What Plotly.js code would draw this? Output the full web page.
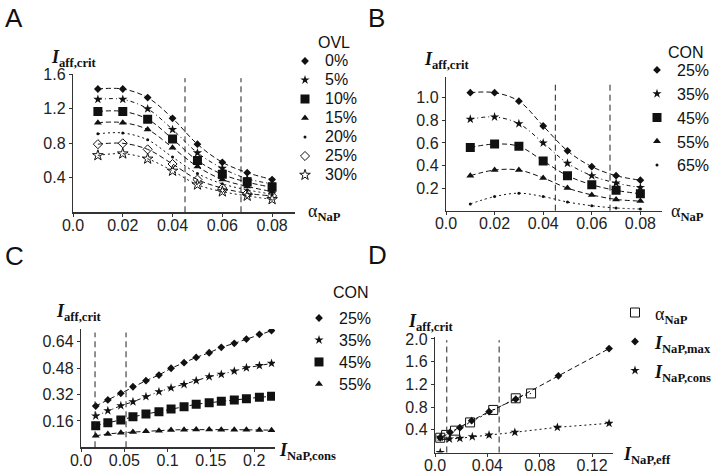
<!DOCTYPE html>
<html><head><meta charset="utf-8">
<script src="https://cdn.plot.ly/plotly-3.0.1.min.js"></script>
<style>html,body{margin:0;padding:0;background:#fff}#chart{width:720px;height:474px}</style>
</head><body><div id="chart"></div>
<script>
// ---------- Panel A : OVL ----------
const alphaA = [0.01,0.02,0.03,0.04,0.05,0.06,0.07,0.08];
const ovlNames = ['0%','5%','10%','15%','20%','25%','30%'];
const ovl0  = [1.43,1.43,1.33,1.09,0.79,0.58,0.46,0.38];
const ovl5  = [1.31,1.31,1.20,0.96,0.69,0.51,0.39,0.33];
const ovl10 = [1.17,1.17,1.08,0.85,0.60,0.44,0.35,0.29];
const ovl15 = [1.04,1.04,0.96,0.75,0.53,0.38,0.30,0.24];
const ovl20 = [0.91,0.92,0.84,0.64,0.45,0.33,0.26,0.21];
const ovl25 = [0.79,0.80,0.73,0.56,0.38,0.28,0.22,0.19];
const ovl30 = [0.66,0.68,0.62,0.48,0.32,0.24,0.19,0.15];
const vlinesA = [0.045,0.0675];

// ---------- Panel B : CON vs alpha ----------
const alphaB = [0.01,0.02,0.03,0.04,0.05,0.06,0.07,0.08];
const conNamesB = ['25%','35%','45%','55%','65%'];
const conB25 = [1.045,1.045,0.97,0.75,0.53,0.39,0.31,0.27];
const conB35 = [0.81,0.83,0.77,0.60,0.42,0.31,0.245,0.205];
const conB45 = [0.56,0.59,0.57,0.44,0.31,0.23,0.18,0.15];
const conB55 = [0.31,0.36,0.36,0.29,0.20,0.14,0.10,0.085];
const conB65 = [0.06,0.125,0.155,0.125,0.077,0.044,0.024,0.015];
const vlinesB = [0.045,0.0675];

// ---------- Panel C : CON vs I_NaP,cons ----------
const consC = [0.017,0.031,0.046,0.060,0.075,0.090,0.104,0.119,0.133,0.148,0.162,0.177,0.191,0.206,0.220];
const conNamesC = ['25%','35%','45%','55%'];
const conC25 = [0.25,0.287,0.327,0.367,0.404,0.438,0.479,0.513,0.545,0.573,0.606,0.63,0.656,0.685,0.707];
const conC35 = [0.19,0.222,0.252,0.276,0.307,0.337,0.36,0.381,0.404,0.428,0.442,0.462,0.482,0.495,0.509];
const conC45 = [0.131,0.149,0.165,0.185,0.202,0.216,0.232,0.246,0.261,0.27,0.279,0.287,0.295,0.303,0.309];
const conC55 = [0.07,0.081,0.088,0.093,0.097,0.101,0.105,0.107,0.108,0.108,0.107,0.107,0.106,0.105,0.104];
const vlinesC = [0.0162,0.052];

// ---------- Panel D : vs I_NaP,eff ----------
const effAlpha = [0.004,0.0085,0.0153,0.0268,0.0445,0.0617,0.0734];
const critAlpha = [0.26,0.31,0.385,0.53,0.75,0.955,1.04];
const effMax = [0.004,0.0115,0.019,0.028,0.0413,0.0617,0.0943,0.133];
const critMax = [0.26,0.356,0.437,0.56,0.72,0.94,1.35,1.83];
const effCons = [0.004,0.011,0.019,0.0285,0.0413,0.061,0.0935,0.133];
const critCons = [0.268,0.238,0.25,0.278,0.308,0.356,0.444,0.514];
const effStray = [0.004];
const critStray = [0.0];
const vlinesD = [0.009,0.049];

// tick labels
const xTicksAB = [0,0.02,0.04,0.06,0.08], xTextAB = ['0.0','0.02','0.04','0.06','0.08'];
const yTicksA = [0.4,0.8,1.2,1.6], yTextA = ['0.4','0.8','1.2','1.6'];
const yTicksB = [0.2,0.4,0.6,0.8,1.0], yTextB = ['0.2','0.4','0.6','0.8','1.0'];
const xTicksC = [0,0.05,0.1,0.15,0.2], xTextC = ['0.0','0.05','0.1','0.15','0.2'];
const yTicksC = [0.16,0.32,0.48,0.64], yTextC = ['0.16','0.32','0.48','0.64'];
const xTicksD = [0,0.04,0.08,0.12], xTextD = ['0.0','0.04','0.08','0.12'];
const yTicksD = [0.4,0.8,1.2,1.6,2.0], yTextD = ['0.4','0.8','1.2','1.6','2.0'];

const K = '#111';
const DASH = '5px,3px', DOT = '2px,3px', DASHDOT = '4px,3px,1px,3px';

const styles = {
  dia:   {symbol:'diamond', size:6, color:K},
  star:  {symbol:'star', size:7, color:K},
  sq:    {symbol:'square', size:9, color:K},
  tri:   {symbol:'triangle-up', size:7, color:K},
  dot:   {symbol:'circle', size:3, color:K},
  diaO:  {symbol:'diamond-open', size:7, color:K, line:{width:1,color:K}},
  starO: {symbol:'star-open', size:8, color:K, line:{width:1,color:K}},
  sqO:   {symbol:'square-open', size:9, color:K, line:{width:1,color:K}}
};

const traces = [];
function series(xs, ys, mk, dash, ax, shape){
  traces.push({x:xs, y:ys, xaxis:ax[0], yaxis:ax[1], mode:'lines+markers', showlegend:false,
    line:{color:K, width:1, dash:dash, shape:shape||'linear', smoothing:1}, marker:styles[mk], hoverinfo:'skip'});
}
function sized(txt, s){ return '<span style="font-size:'+s+'px">'+txt+'</span>'; }
function legendItem(name, mk, ax, leg, s){
  traces.push({x:[null], y:[null], xaxis:ax[0], yaxis:ax[1], mode:'markers', name:sized(name,s), legend:leg,
    marker:styles[mk], showlegend:true});
}

// A
const axA = ['x','y'];
const dataA = [ovl0,ovl5,ovl10,ovl15,ovl20,ovl25,ovl30];
const mkA = ['dia','star','sq','tri','dot','diaO','starO'];
const dsA = [DASH,DASHDOT,DASH,DASH,DOT,DASH,DOT];
dataA.forEach((d,i)=>series(alphaA,d,mkA[i],dsA[i],axA,'spline'));
ovlNames.forEach((n,i)=>legendItem(n,mkA[i],axA,'legend',16));

// B
const axB = ['x2','y2'];
const dataB = [conB25,conB35,conB45,conB55,conB65];
const mkB = ['dia','star','sq','tri','dot'];
const dsB = [DASH,DASHDOT,DASH,DASH,DOT];
dataB.forEach((d,i)=>series(alphaB,d,mkB[i],dsB[i],axB,'spline'));
conNamesB.forEach((n,i)=>legendItem(n,mkB[i],axB,'legend2',16));

// C
const axC = ['x3','y3'];
const dataC = [conC25,conC35,conC45,conC55];
const mkC = ['dia','star','sq','tri'];
const dsC = [DASH,DASHDOT,DASH,DASH];
dataC.forEach((d,i)=>series(consC,d,mkC[i],dsC[i],axC,'linear'));
conNamesC.forEach((n,i)=>legendItem(n,mkC[i],axC,'legend3',16));

// D
const axD = ['x4','y4'];
series(effAlpha,critAlpha,'sqO',DOT,axD,'linear');
series(effMax,critMax,'dia',DASH,axD,'linear');
series(effCons,critCons,'star',DOT,axD,'linear');
traces.push({x:effStray,y:critStray,xaxis:'x4',yaxis:'y4',mode:'markers',showlegend:false,marker:styles.star,hoverinfo:'skip'});
legendItem('α<sub><b>NaP</b></sub>','sqO',axD,'legend4',18);
legendItem('<b><i>I</i></b><sub><b>NaP,max</b></sub>','dia',axD,'legend4',18);
legendItem('<b><i>I</i></b><sub><b>NaP,cons</b></sub>','star',axD,'legend4',18);

const tickFont = {family:'Liberation Sans, Arial, sans-serif', size:16, color:'#222'};
function axis(dom, rng, tv, tt, anchor, isX){
  const a = {domain:dom, range:rng, anchor:anchor, tickvals:tv, ticktext:tt, ticks:'outside', ticklen:3, tickcolor:'#333',
    showline:true, linecolor:'#333', linewidth:1.2, showgrid:false, zeroline:false, tickfont:tickFont, fixedrange:true};
  if(isX) a.ticklabelstandoff = -5;
  return a;
}
const W=720, H=474;
const px = v=>v/W, py = v=>1-v/H;

const shapes = [];
function vl(list, xr){
  list.forEach(v=>shapes.push({type:'line', xref:xr, yref:xr.replace('x','y')+' domain', x0:v, x1:v, y0:0, y1:0.97,
    line:{color:'#222', width:1, dash:'6px,4px'}}));
}
vl(vlinesA,'x'); vl(vlinesB,'x2'); vl(vlinesC,'x3'); vl(vlinesD,'x4');

const serif = 'Liberation Serif, Times New Roman, serif';
const sans = 'Liberation Sans, Arial, sans-serif';
const ytitle = '<b><i>I</i></b><sub><b>aff,crit</b></sub>';
function ann(text, x, y, size, fam, xa){
  return {text:text, x:px(x), y:py(y), xref:'paper', yref:'paper', xanchor:xa||'left', yanchor:'middle', showarrow:false,
    font:{family:fam, size:size, color:'#111'}};
}
const annotations = [
  ann('A',3,18,26,sans), ann('B',366,18,26,sans), ann('C',3,256,26,sans), ann('D',366,255,26,sans),
  ann(ytitle,49,58,18,serif), ann(ytitle,422,61,18,serif), ann(ytitle,54,312,18,serif), ann(ytitle,406,322,18,serif),
  ann('α<sub><b>NaP</b></sub>',306,213,18,serif), ann('α<sub><b>NaP</b></sub>',669,213,18,serif),
  ann('<b><i>I</i></b><sub><b>NaP,cons</b></sub>',277,451,18,serif), ann('<b><i>I</i></b><sub><b>NaP,eff</b></sub>',621,455,18,serif),
  ann('OVL',316,42,16,sans), ann('CON',666,53,16,sans), ann('CON',331,292,16,sans)
];

function leg(x,y,size,fam){
  return {x:px(x), y:py(y), xanchor:'left', yanchor:'top', bgcolor:'rgba(0,0,0,0)', borderwidth:0,
    font:{family:fam, size:size, color:'#111'}, itemclick:false, itemdoubleclick:false, tracegroupgap:0};
}

const layout = {
  width:W, height:H, autosize:false, margin:{l:0,r:0,t:0,b:0}, paper_bgcolor:'#fff', plot_bgcolor:'rgba(0,0,0,0)',
  showlegend:true,
  xaxis: axis([px(73),px(295)],[0,0.0892],xTicksAB,xTextAB,'y',true),
  yaxis: axis([py(212.3),py(74)],[0,1.604],yTicksA,yTextA,'x'),
  xaxis2: axis([px(446),px(662)],[0,0.0889],xTicksAB,xTextAB,'y2',true),
  yaxis2: axis([py(210.7),py(77.3)],[0,1.181],yTicksB,yTextB,'x2'),
  xaxis3: axis([px(81),px(275)],[0,0.224],xTicksC,xTextC,'y3',true),
  yaxis3: axis([py(447.3),py(329)],[0,0.717],yTicksC,yTextC,'x3'),
  xaxis4: axis([px(435),px(613)],[0,0.136],xTicksD,xTextD,'y4',true),
  yaxis4: axis([py(452.5),py(336.7)],[0,2.04],yTicksD,yTextD,'x4'),
  legend: leg(285,46.5,12,sans),
  legend2: leg(637,53,16,sans),
  legend3: leg(299,302,14.6,sans),
  legend4: leg(615,293,20,serif),
  shapes:shapes, annotations:annotations
};

Plotly.newPlot('chart', traces, layout, {staticPlot:true, displayModeBar:false});
</script></body></html>
